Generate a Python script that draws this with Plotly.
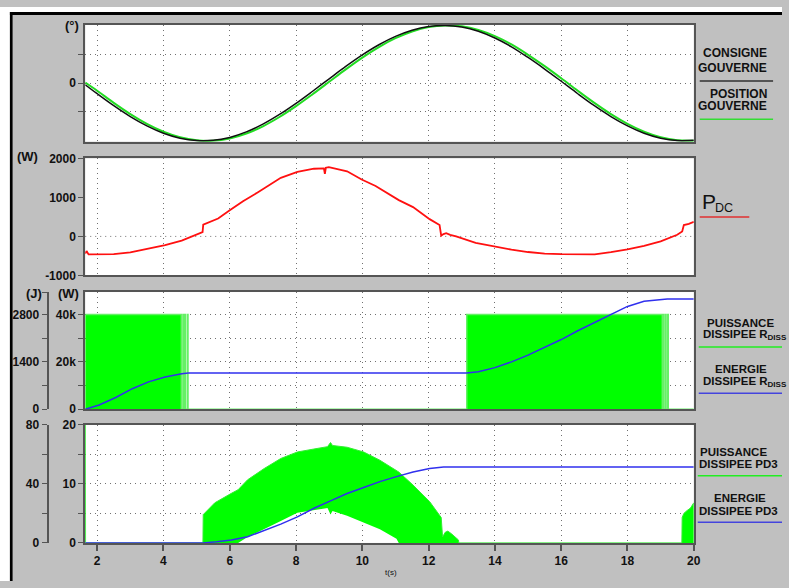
import plotly.graph_objects as go

W, H = 789, 588


def fx(p):
    return p / W


def fy(p):
    return 1 - p / H


# ---------------- data ----------------
# Panel 1: rudder command / position (degrees)
t_gouv = [1.64, 2, 2.5, 3, 3.5, 4, 4.5, 5, 5.5, 6, 6.5, 7, 7.5, 8, 8.5, 9, 9.5, 10,
          10.5, 11, 11.5, 12, 12.5, 13, 13.5, 14, 14.5, 15, 15.5, 16, 16.5, 17,
          17.5, 18, 18.5, 19, 19.5, 20]
consigne = [-0.56, -3.66, -7.80, -11.58, -14.81, -17.36, -19.09, -19.92, -19.83, -18.81,
            -16.90, -14.22, -10.86, -7.01, -2.81, 1.51, 5.79, 9.78, 13.30, 16.19, 18.33,
            19.62, 20.00, 19.44, 17.97, 15.63, 12.59, 8.89, 4.88, 0.65, -3.67, -7.81,
            -11.58, -14.81, -17.36, -19.09, -19.92, -19.83]
position = [0.2, -2.64, -6.84, -10.73, -14.11, -16.84, -18.78, -19.83, -19.97, -19.16,
            -17.46, -14.95, -11.73, -7.98, -3.84, 0.47, 4.79, 8.87, 12.52, 15.58, 17.91,
            19.42, 19.99, 19.68, 18.43, 16.28, 13.40, 9.82, 5.89, 1.69, -2.65, -6.85,
            -10.73, -14.11, -16.84, -18.78, -19.83, -19.97]

# Panel 2: DC power (W)
t_pdc = [1.64, 1.68, 1.74, 1.9, 2.5, 3.0, 3.55, 4.05, 4.55, 5.05, 5.18, 5.2, 5.4, 5.65,
         6.0, 6.4, 6.84, 7.2, 7.54, 8.04, 8.54, 8.84, 8.87, 8.9, 8.99, 9.54, 9.98, 10.4,
         10.73, 11.1, 11.53, 12.03, 12.33, 12.38, 12.45, 12.53, 12.65, 12.83, 13.42,
         14.0, 14.5, 15.0, 15.5, 16.0, 16.5, 17.01, 17.5, 18.0, 18.5, 19.0, 19.5,
         19.65, 19.7, 19.85, 20.0]
p_dc = [-440, -375, -460, -460, -455, -410, -320, -225, -108, 58, 108, 300, 370, 458,
        667, 900, 1125, 1320, 1500, 1650, 1733, 1742, 1600, 1760, 1775, 1667, 1458, 1290,
        1125, 930, 750, 442, 292, 20, 60, 83, 40, 0, -167, -265, -340, -400, -440, -455,
        -460, -458, -405, -333, -240, -125, 42, 125, 292, 320, 375]

# Panel 3: power dissipated in R_DIS (W) and energy (J)
t_rdis = [1.64, 4.54, 4.59, 4.61, 4.64, 4.66, 4.72, 4.74, 13.15, 19.05, 19.07, 19.09,
          19.14, 19.16, 19.21, 19.23, 20.0]
p_rdis = [40000, 0, 40000, 0, 40000, 0, 40000, 0, 40000, 0, 40000, 0, 40000, 0, 40000,
          0, 0]
t_erdis = [1.64, 2.06, 2.56, 3.06, 3.55, 4.05, 4.55, 4.75, 13.15, 13.5, 14.0, 14.5, 15.0,
           15.5, 16.0, 16.5, 17.0, 17.5, 18.0, 18.5, 19.0, 19.2, 20.0]
e_rdis = [0, 125, 346, 606, 808, 952, 1048, 1068, 1068, 1110, 1230, 1400, 1600, 1830,
          2060, 2320, 2560, 2820, 3040, 3190, 3255, 3262, 3262]

# Panel 4: power dissipated in PD3 (W) – envelope of the switching signal – and energy (J)
t_pd3 = [1.64, 1.645, 1.65, 5.19, 5.2, 5.55, 6.05, 6.25, 6.54, 7.04, 7.54, 8.04, 8.54,
         8.95, 9.04, 9.1, 9.54, 10.04, 10.53, 11.03, 11.1, 11.53, 12.03, 12.38, 12.42,
         12.5, 12.58, 12.7, 12.83, 12.9, 12.91, 19.64, 19.65, 19.7, 19.8, 19.9, 20.0]
pd3_high = [20, 20, 0, 0, 4.8, 6.8, 8.4, 9.0, 10.7, 12.6, 14.3, 15.4, 15.9, 16.3, 17.0,
            16.5, 16.2, 15.4, 14.0, 12.3, 12.0, 9.8, 7.0, 4.3, 1.0, 1.8, 2.0, 1.5, 0.8,
            0.5, 0, 0, 4.3, 5.0, 5.5, 5.9, 6.8]
pd3_low = [0, 0, 0, 0, 0, 0, 0, 0, 1.0, 2.3, 3.7, 5.1, 5.6, 5.9, 4.8, 5.4, 4.6, 3.4, 2.3,
           0.7, 0, 0, 0, 0, 0, 0, 0, 0, 0, 0, 0, 0, 0, 0, 0, 0, 0]
t_epd3 = [1.64, 5.2, 5.6, 6.05, 6.54, 7.04, 7.54, 8.04, 8.54, 9.04, 9.54, 10.04, 10.53,
          11.03, 11.53, 12.03, 12.2, 12.45, 20.0]
e_pd3 = [0, 0, 0.8, 2.0, 4.2, 8.2, 12.7, 17.6, 23.5, 28.5, 33.5, 37.5, 41.5, 44.9, 48.0,
         50.4, 51.0, 51.5, 51.5]

x_ticks = [2, 4, 6, 8, 10, 12, 14, 16, 18, 20]

# ---------------- styles ----------------
FONT = "Liberation Sans, Arial, sans-serif"
AXC = "#555555"
GRID = "#707070"
GDASH = "1px,4px"
TXT = "#111111"
tickfont = dict(family=FONT, size=12, color=TXT, weight="bold")

fig = go.Figure()

fig.add_trace(go.Scatter(x=t_gouv, y=position, mode="lines", line=dict(color="#22dd22", width=2, shape="spline"),
                         xaxis="x", yaxis="y", showlegend=False))
fig.add_trace(go.Scatter(x=t_gouv, y=consigne, mode="lines", line=dict(color="#101010", width=1.5, shape="spline"),
                         xaxis="x", yaxis="y", showlegend=False))

fig.add_trace(go.Scatter(x=t_pdc, y=p_dc, mode="lines", line=dict(color="#ff1010", width=1.8),
                         xaxis="x2", yaxis="y2", showlegend=False))

fig.add_trace(go.Scatter(x=t_rdis, y=p_rdis, mode="lines", line=dict(color="#66f066", width=1.5, shape="hv"),
                         fill="tozeroy", fillcolor="#00ff00", xaxis="x3", yaxis="y3", showlegend=False))
fig.add_trace(go.Scatter(x=t_erdis, y=e_rdis, mode="lines", line=dict(color="#3030ee", width=1.5),
                         xaxis="x3", yaxis="y5", showlegend=False))

fig.add_trace(go.Scatter(x=t_pd3, y=pd3_low, mode="lines", line=dict(color="#00ff00", width=0),
                         xaxis="x4", yaxis="y4", showlegend=False))
fig.add_trace(go.Scatter(x=t_pd3, y=pd3_high, mode="lines", line=dict(color="#33ee33", width=1),
                         fill="tonexty", fillcolor="#00ff00", xaxis="x4", yaxis="y4", showlegend=False))
fig.add_trace(go.Scatter(x=t_epd3, y=e_pd3, mode="lines", line=dict(color="#3030ee", width=1.5),
                         xaxis="x4", yaxis="y6", showlegend=False))

xdom = [fx(86), fx(700)]


def xax(anchor, labels=False):
    d = dict(domain=xdom, range=[1.64, 20], tickvals=x_ticks, showgrid=True, gridcolor=GRID,
             griddash=GDASH, gridwidth=1, showline=True, linecolor=AXC, linewidth=2, mirror=True,
             zeroline=False, anchor=anchor, showticklabels=labels, tickfont=tickfont)
    if labels:
        d.update(ticks="outside", ticklen=6, tickwidth=2, tickcolor=AXC)
    else:
        d.update(ticks="")
    return d


def yax(dom, rng, vals, text, grid=True):
    return dict(domain=dom, range=rng, tickvals=vals, ticktext=text, showgrid=grid, gridcolor=GRID,
                griddash=GDASH, gridwidth=1, showline=True, linecolor=AXC, linewidth=2, mirror=True,
                zeroline=False, ticks="outside", ticklen=5, tickwidth=1, tickcolor=AXC,
                tickfont=tickfont, fixedrange=True)


fig.update_layout(
    width=W, height=H,
    margin=dict(l=0, r=0, t=0, b=0),
    paper_bgcolor="#c0c0c0", plot_bgcolor="#ffffff",
    font=dict(family=FONT, color=TXT),
    xaxis=xax("y"), xaxis2=xax("y2"), xaxis3=xax("y3"), xaxis4=xax("y4", True),
    yaxis=yax([fy(138), fy(18)], [-20.3, 20.3], [-10, 0, 10], ["", "0", ""]),
    yaxis2=yax([fy(275), fy(155)], [-1000, 2000], [-1000, 0, 1000, 2000],
               ["-1000", "0", "1000", "2000"], grid=False),
    yaxis3=yax([fy(412), fy(292)], [0, 49500], [0, 10000, 20000, 30000, 40000],
               ["0", "", "20k", "", "40k"]),
    yaxis4=yax([fy(549), fy(428)], [0, 20], [0, 5, 10, 15, 20], ["0", "", "10", "", "20"]),
    yaxis5=dict(overlaying="y3", anchor="free", position=fx(48), side="left", range=[0, 3465],
                tickvals=[0, 700, 1400, 2100, 2800, 3465], ticktext=["0", "", "1400", "", "2800", ""],
                showgrid=False, zeroline=False, showline=True, linecolor=AXC, linewidth=2,
                ticks="outside", ticklen=5, tickcolor=AXC, tickfont=tickfont),
    yaxis6=dict(overlaying="y4", anchor="free", position=fx(48), side="left", range=[0, 80],
                tickvals=[0, 20, 40, 60, 80], ticktext=["0", "", "40", "", "80"],
                showgrid=False, zeroline=False, showline=True, linecolor=AXC, linewidth=2,
                ticks="outside", ticklen=5, tickcolor=AXC, tickfont=tickfont),
)

shapes = [
    # dotted zero line of the P_DC panel
    dict(type="line", xref="x2 domain", yref="y2", x0=0, x1=1, y0=0, y1=0,
         line=dict(color=GRID, width=1, dash=GDASH), layer="below"),
    # window frame
    dict(type="rect", xref="paper", yref="paper", x0=0, x1=fx(10), y0=0, y1=1,
         fillcolor="#ffffff", line=dict(width=0)),
    dict(type="rect", xref="paper", yref="paper", x0=0, x1=1, y0=fy(5), y1=1,
         fillcolor="#ffffff", line=dict(width=0)),
    dict(type="rect", xref="paper", yref="paper", x0=fx(10), x1=fx(12.7), y0=0, y1=fy(5),
         fillcolor="#000000", line=dict(width=0)),
    dict(type="rect", xref="paper", yref="paper", x0=fx(10), x1=1, y0=fy(8.3), y1=fy(5),
         fillcolor="#000000", line=dict(width=0)),
]


def legline(x0, x1, y, color):
    shapes.append(dict(type="line", xref="paper", yref="paper", x0=fx(x0), x1=fx(x1),
                       y0=fy(y), y1=fy(y), line=dict(color=color, width=1.5)))


legline(706, 780, 75.7, "#303030")
legline(706, 780, 115, "#33dd33")
legline(706, 756, 215, "#e03030")
legline(705, 789, 348.3, "#22ee22")
legline(705, 789, 395.7, "#4444dd")
legline(704, 789, 480.3, "#22ee22")
legline(704, 789, 527.7, "#4444dd")

fig.update_layout(shapes=shapes)

ann = []


def txt(s, x, y, size=12, anchor="center", bold=True):
    ann.append(dict(text=("<b>%s</b>" % s) if bold else s, x=fx(x), y=fy(y), xref="paper",
                    yref="paper", xanchor=anchor, yanchor="middle", showarrow=False,
                    font=dict(family=FONT, size=size, color=TXT)))


# units
txt("(°)", 73, 19, 13)
txt("(W)", 28, 153, 13)
txt("(J)", 34, 293, 13)
txt("(W)", 69, 293, 13)

# legends
txt("CONSIGNE", 776, 47, anchor="right")
txt("GOUVERNE", 776, 62, anchor="right")
txt("POSITION", 776, 89.3, anchor="right")
txt("GOUVERNE", 776, 101.3, anchor="right")

txt("P", 706, 199, 21, anchor="left", bold=False)
txt("DC", 719, 206, 12.5, anchor="left", bold=False)

txt("PUISSANCE", 747, 323.3, 11.5)
txt("DISSIPEE R<sub>DISS</sub>", 707, 336, 11.5, anchor="left")
txt("ENERGIE", 748, 370.8, 11.5)
txt("DISSIPEE R<sub>DISS</sub>", 707, 384, 11.5, anchor="left")

txt("PUISSANCE", 740.5, 455.8, 11.5)
txt("DISSIPEE PD3", 745.5, 467.8, 11.5)
txt("ENERGIE", 746.5, 503.3, 11.5)
txt("DISSIPEE PD3", 745.5, 515.8, 11.5)

txt("t(s)", 395, 579, 8, bold=False)

fig.update_layout(annotations=ann)

fig.write_html("out.html", config={"displayModeBar": False},
               post_script="document.body.style.margin='0';")
